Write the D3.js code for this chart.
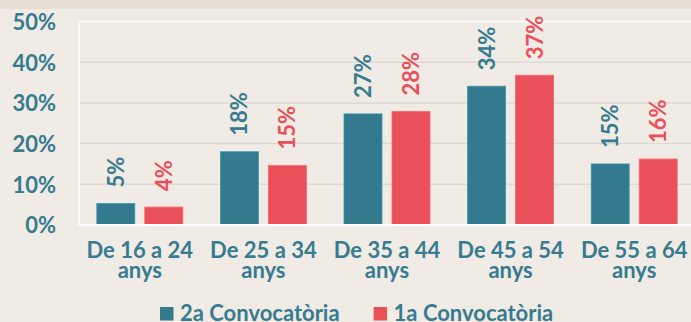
<!DOCTYPE html>
<html>
<head>
<meta charset="utf-8">
<script src="https://cdn.jsdelivr.net/npm/d3@7"></script>
<style>
  html, body { margin: 0; padding: 0; background: #f0ebe5; }
  svg { display: block; }
  text { font-family: Lato, "Open Sans", sans-serif; font-weight: 700; }
</style>
</head>
<body>
<svg id="chart" width="691" height="322"></svg>
<script>
// Age groups (two-line labels)
const categories = ["De 16 a 24|anys", "De 25 a 34|anys", "De 35 a 44|anys", "De 45 a 54|anys", "De 55 a 64|anys"];
const seriesNames = ["2a Convocatòria", "1a Convocatòria"];
const seriesColors = ["#347a8e", "#e9505a"];
// Share of each age group, per call
const valuesSecond = [0.053, 0.180, 0.273, 0.341, 0.150];
const valuesFirst  = [0.044, 0.146, 0.279, 0.368, 0.162];
const yTicks = [0, 0.1, 0.2, 0.3, 0.4, 0.5];

const W = 691, H = 322;
const svg = d3.select("#chart");
const teal = "#367b8f";

// pale band across the top
svg.append("rect").attr("x", 0).attr("y", 0).attr("width", W).attr("height", 9).attr("fill", "#e5dfd4");

const x0 = d3.scaleBand().domain(categories).range([78, 696]).padding(0);
const x1 = d3.scaleBand().domain(seriesNames).range([-43, 43]).paddingInner(0.2083).paddingOuter(0);
const y = d3.scaleLinear().domain([0, 0.5]).range([225, 21.5]);
const pct = d3.format(".0%");

// gridlines
svg.append("g")
  .selectAll("line")
  .data(yTicks.filter(t => t > 0 && t < 0.5))
  .join("line")
  .attr("x1", 79).attr("x2", W)
  .attr("y1", d => y(d)).attr("y2", d => y(d))
  .attr("stroke", "#dcd9d5").attr("stroke-width", 1.5);

// plot frame (top, left, baseline)
svg.append("line").attr("x1", 79).attr("x2", W).attr("y1", y(0.5)).attr("y2", y(0.5))
  .attr("stroke", "#ffffff").attr("stroke-width", 1.5);
svg.append("line").attr("x1", 79).attr("x2", 79).attr("y1", y(0.5)).attr("y2", y(0))
  .attr("stroke", "#ffffff").attr("stroke-width", 1.5);

// y axis labels
const yAxis = d3.axisLeft(y).tickValues(yTicks).tickFormat(pct).tickSize(0).tickPadding(23);
const gy = svg.append("g").attr("transform", "translate(79,0)").call(yAxis);
gy.select(".domain").remove();
gy.selectAll("text")
  .attr("fill", teal).attr("font-size", 22)
  .attr("font-family", "Lato, sans-serif").attr("font-weight", 700)
  .attr("dy", "0.36em");

// bars
const rows = categories.map((c, i) => ({ cat: c, vals: [valuesSecond[i], valuesFirst[i]] }));
const groups = svg.append("g").selectAll("g")
  .data(rows)
  .join("g")
  .attr("transform", d => `translate(${x0(d.cat) + x0.bandwidth() / 2},0)`);

groups.selectAll("rect")
  .data(d => d.vals.map((v, j) => ({ s: seriesNames[j], v, j })))
  .join("rect")
  .attr("x", d => x1(d.s))
  .attr("y", d => y(d.v))
  .attr("width", x1.bandwidth())
  .attr("height", d => y(0) - y(d.v))
  .attr("fill", d => seriesColors[d.j])
  .attr("stroke", d => d3.color(seriesColors[d.j]).brighter(0.6))
  .attr("stroke-width", 0.8);

// value labels, rotated
groups.selectAll("text.val")
  .data(d => d.vals.map((v, j) => ({ s: seriesNames[j], v, j })))
  .join("text")
  .attr("class", "val")
  .attr("transform", d => `translate(${x1(d.s) + x1.bandwidth() / 2},${y(d.v) - 16}) rotate(-90)`)
  .attr("dy", "0.36em")
  .attr("font-size", 22)
  .attr("fill", d => d.j === 0 ? teal : seriesColors[1])
  .text(d => pct(d.v));

// baseline
svg.append("line").attr("x1", 79).attr("x2", W).attr("y1", y(0)).attr("y2", y(0))
  .attr("stroke", "#ffffff").attr("stroke-width", 2);

// category labels
const catG = svg.append("g").selectAll("text")
  .data(categories)
  .join("text")
  .attr("x", d => x0(d) + x0.bandwidth() / 2)
  .attr("y", 257.5)
  .attr("text-anchor", "middle")
  .attr("font-size", 22)
  .attr("fill", teal);
catG.selectAll("tspan")
  .data(d => d.split("|"))
  .join("tspan")
  .attr("x", function () { return d3.select(this.parentNode).attr("x"); })
  .attr("dy", (d, i) => i === 0 ? 0 : 20)
  .text(d => d);

// legend
const legend = svg.append("g");
let lx = 160;
seriesNames.forEach((name, j) => {
  legend.append("rect").attr("x", lx).attr("y", 307).attr("width", 13.5).attr("height", 13.5)
    .attr("fill", seriesColors[j]);
  const t = legend.append("text").attr("x", lx + 20).attr("y", 320.5)
    .attr("font-size", 22).attr("fill", teal).text(name);
  lx += 20 + t.node().getComputedTextLength() + 34;
});
</script>
</body>
</html>
